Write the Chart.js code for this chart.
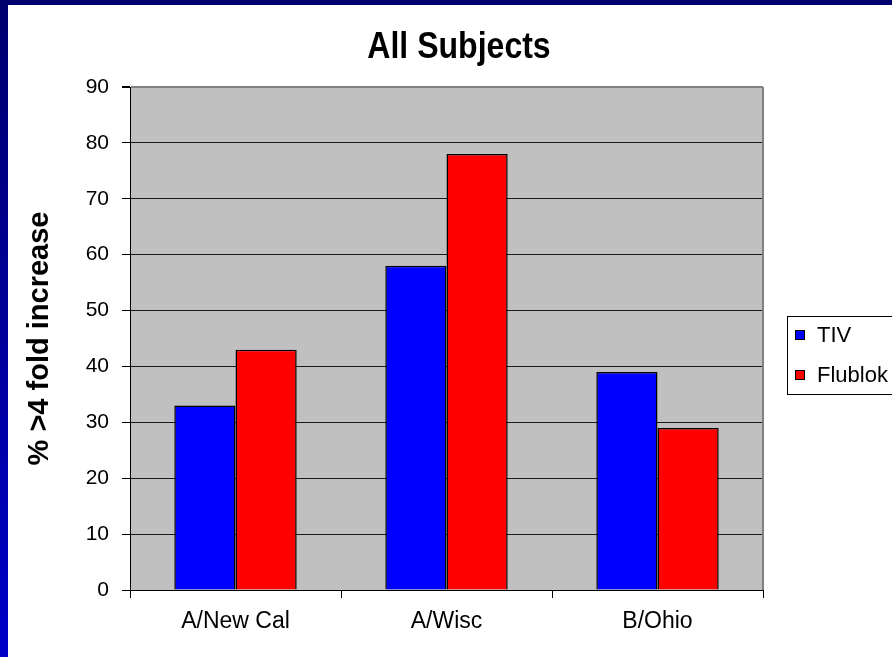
<!DOCTYPE html>
<html>
<head>
<meta charset="utf-8">
<script src="https://cdn.jsdelivr.net/npm/chart.js@4/dist/chart.umd.min.js"></script>
<style>
  html, body { margin: 0; padding: 0; }
  body {
    width: 892px; height: 657px; overflow: hidden;
    background: linear-gradient(to bottom, #00006e 0%, #00009a 50%, #0000c8 100%);
    position: relative;
  }
  #wrap {
    position: absolute; left: 8px; top: 5px; width: 884px; height: 652px;
    background: #ffffff;
  }
  canvas { display: block; }
</style>
</head>
<body>
<div id="wrap"><canvas id="c" width="884" height="652"></canvas></div>
<script>
const chartTitle = 'All Subjects';
const yAxisTitle = '% >4 fold increase';
const categories = ['A/New Cal', 'A/Wisc', 'B/Ohio'];
const seriesNames = ['TIV', 'Flublok'];
const tivValues = [33, 58, 39];
const flublokValues = [43, 78, 29];
const yTicks = [0, 10, 20, 30, 40, 50, 60, 70, 80, 90];

const FONT = "'Liberation Sans', Arial, sans-serif";

const plotBg = {
  id: 'plotBg',
  beforeDraw(chart) {
    const { ctx, chartArea: a } = chart;
    ctx.save();
    ctx.fillStyle = '#c0c0c0';
    ctx.fillRect(a.left, a.top, a.right - a.left, a.bottom - a.top);
    ctx.restore();
  },
  afterDatasetsDraw(chart) {
    const { ctx, chartArea: a } = chart;
    ctx.save();
    ctx.strokeStyle = '#808080';
    ctx.lineWidth = 2;
    ctx.beginPath();
    ctx.moveTo(a.right, a.top);
    ctx.lineTo(a.right, a.bottom);
    ctx.stroke();
    ctx.restore();
  }
};

const centeredTitle = {
  id: 'centeredTitle',
  afterDraw(chart) {
    const { ctx } = chart;
    ctx.save();
    ctx.font = 'bold 36px ' + FONT;
    ctx.fillStyle = '#000';
    ctx.textAlign = 'center';
    ctx.textBaseline = 'middle';
    ctx.translate(451, 43);
    ctx.scale(0.89, 1);
    ctx.fillText(chartTitle, 0, 0);
    ctx.restore();
  }
};

const boxLegend = {
  id: 'boxLegend',
  afterDraw(chart) {
    const { ctx } = chart;
    const left = 779, top = 311, w = 120, h = 78;
    ctx.save();
    ctx.fillStyle = '#ffffff';
    ctx.fillRect(left, top, w, h);
    ctx.strokeStyle = '#000000';
    ctx.lineWidth = 1;
    ctx.strokeRect(left + 0.5, top + 0.5, w, h);
    ctx.font = '22px ' + FONT;
    ctx.textBaseline = 'middle';
    chart.data.datasets.forEach((ds, i) => {
      const cy = top + 19 + i * 40;
      ctx.fillStyle = ds.backgroundColor;
      ctx.fillRect(left + 9, cy - 4, 8, 8);
      ctx.strokeStyle = '#000';
      ctx.strokeRect(left + 8.5, cy - 4.5, 9, 9);
      ctx.fillStyle = '#000';
      ctx.fillText(ds.label, left + 30, cy + 1);
    });
    ctx.restore();
  }
};

new Chart(document.getElementById('c'), {
  type: 'bar',
  data: {
    labels: categories,
    datasets: [
      { label: seriesNames[0], data: tivValues, backgroundColor: '#0000ff', borderColor: '#000000', borderWidth: 1.5 },
      { label: seriesNames[1], data: flublokValues, backgroundColor: '#ff0000', borderColor: '#000000', borderWidth: 1.5 }
    ]
  },
  options: {
    responsive: false,
    animation: false,
    layout: { padding: { left: 0, right: 129, top: 82, bottom: 0 } },
    datasets: { bar: { categoryPercentage: 0.58, barPercentage: 1.0 } },
    plugins: {
      legend: { display: false },
      tooltip: { enabled: false },
      title: { display: false }
    },
    scales: {
      x: {
        afterFit(s) { s.height = 67; },
        grid: { offset: true, drawOnChartArea: false, tickLength: 8, color: '#000', tickColor: '#000' },
        border: { color: '#000', width: 1 },
        ticks: { color: '#000', font: { family: FONT, size: 23 }, padding: 10 }
      },
      y: {
        min: 0, max: 90,
        afterFit(s) { s.width = 122; },
        afterBuildTicks(s) { s.ticks = yTicks.map(v => ({ value: v })); },
        grid: {
          color: (c) => (c.tick && c.tick.value === 90) ? '#808080' : '#1a1a1a',
          lineWidth: (c) => (c.tick && c.tick.value === 90) ? 2 : 1,
          tickLength: 8,
          tickColor: '#000'
        },
        border: { color: '#000', width: 1 },
        ticks: { color: '#000', font: { family: FONT, size: 21 }, padding: 13 },
        title: {
          display: true,
          text: yAxisTitle,
          color: '#000',
          font: { family: FONT, size: 29, weight: 'bold' },
          padding: { top: 15, bottom: 0 }
        }
      }
    }
  },
  plugins: [plotBg, centeredTitle, boxLegend]
});
</script>
</body>
</html>
